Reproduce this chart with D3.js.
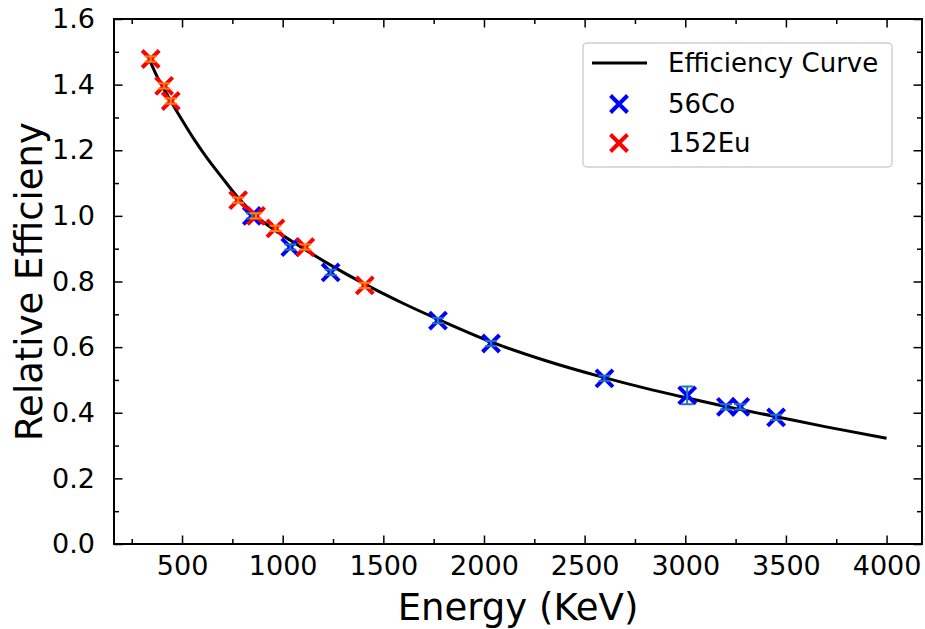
<!DOCTYPE html>
<html>
<head>
<meta charset="utf-8">
<script src="https://cdn.jsdelivr.net/npm/d3@7"></script>
<style>
  html, body { margin: 0; padding: 0; background: #fff; }
  svg { display: block; font-family: "DejaVu Sans", sans-serif; }
</style>
</head>
<body>
<svg id="chart" width="925" height="629"></svg>
<script>
// ---- data ----
const curveEnergy = [344, 380, 411, 444, 500, 560, 620, 700, 779, 867, 964, 1040, 1112, 1238, 1408, 1600, 1771, 2035, 2300, 2598, 2800, 3010, 3200, 3451, 3700, 4000];
const curveEff    = [1.468, 1.420, 1.386, 1.350, 1.292, 1.233, 1.180, 1.116, 1.055, 1.000, 0.955, 0.925, 0.897, 0.850, 0.792, 0.733, 0.685, 0.616, 0.560, 0.507, 0.475, 0.445, 0.419, 0.388, 0.357, 0.322];

const coEnergy = [846.8, 1037.8, 1238.3, 1771.4, 2034.8, 2598.5, 3009.6, 3202.0, 3273.1, 3451.2];
const coEff    = [1.000, 0.905, 0.828, 0.681, 0.611, 0.505, 0.453, 0.418, 0.418, 0.386];
const coErr    = [0.008, 0.008, 0.008, 0.008, 0.008, 0.008, 0.027, 0.008, 0.008, 0.008];

const euEnergy = [344.3, 411.1, 444.0, 778.9, 867.4, 964.1, 1112.1, 1408.0];
const euEff    = [1.478, 1.396, 1.350, 1.048, 1.000, 0.962, 0.905, 0.788];
const euErr    = [0.008, 0.008, 0.008, 0.008, 0.008, 0.008, 0.008, 0.008];

const xTicks = [500, 1000, 1500, 2000, 2500, 3000, 3500, 4000];
const yTicks = [0.0, 0.2, 0.4, 0.6, 0.8, 1.0, 1.2, 1.4, 1.6];
const legendLabels = ["Efficiency Curve", "56Co", "152Eu"];

// ---- layout ----
const svg = d3.select("#chart");
const L = 114, R = 922, T = 19, B = 544;
const x = d3.scaleLinear().domain([162, 4176]).range([L, R]);
const y = d3.scaleLinear().domain([0, 1.6]).range([B, T]);

const tickFont = 27;
const labelFont = 37;

// minor ticks
const xMinor = d3.range(250, 4176, 250).filter(v => xTicks.indexOf(v) < 0 && v > 162);
const yMinor = d3.range(0.1, 1.6, 0.2);

const g = svg.append("g");

// curve
const curveData = curveEnergy.map((e, i) => [e, curveEff[i]]);
g.append("path")
  .datum(curveData)
  .attr("fill", "none")
  .attr("stroke", "#000")
  .attr("stroke-width", 3)
  .attr("d", d3.line().x(d => x(d[0])).y(d => y(d[1])).curve(d3.curveMonotoneX));

// markers
function xMarker(sel, cx, cy, color, s) {
  const h = s / 2;
  sel.append("path")
    .attr("d", `M${cx - h},${cy - h}L${cx + h},${cy + h}M${cx - h},${cy + h}L${cx + h},${cy - h}`)
    .attr("stroke", color).attr("stroke-width", 4).attr("stroke-linecap", "butt").attr("fill", "none");
}
function errBar(sel, cx, v, err, color) {
  const y1 = y(v - err), y2 = y(v + err);
  sel.append("line").attr("x1", cx).attr("x2", cx).attr("y1", y1).attr("y2", y2)
    .attr("stroke", color).attr("stroke-width", 2);
  [y1, y2].forEach(yy => sel.append("line").attr("x1", cx - 6).attr("x2", cx + 6).attr("y1", yy).attr("y2", yy)
    .attr("stroke", color).attr("stroke-width", 2));
}
const pts = g.append("g");
coEnergy.forEach((e, i) => xMarker(pts, x(e), y(coEff[i]), "#0000ff", 17));
euEnergy.forEach((e, i) => xMarker(pts, x(e), y(euEff[i]), "#ff0000", 17));
coEnergy.forEach((e, i) => errBar(pts, x(e), coEff[i], coErr[i], "#1f77b4"));
euEnergy.forEach((e, i) => errBar(pts, x(e), euEff[i], euErr[i], "#ff7f0e"));

// axes (ticks inward, on all four sides)
function styleAxis(a) {
  a.select(".domain").remove();
  a.selectAll(".tick line").attr("stroke", "#000").attr("stroke-width", 1.5);
}
const xb = svg.append("g").attr("transform", `translate(0,${B})`)
  .call(d3.axisBottom(x).tickValues(xTicks).tickSize(-8.5).tickPadding(12).tickFormat(d3.format("d")));
styleAxis(xb);
xb.selectAll("text").attr("font-size", tickFont).attr("fill", "#000").attr("font-family", "DejaVu Sans");
const xbm = svg.append("g").attr("transform", `translate(0,${B})`)
  .call(d3.axisBottom(x).tickValues(xMinor).tickSize(-5).tickFormat(""));
styleAxis(xbm);
const xt = svg.append("g").attr("transform", `translate(0,${T})`)
  .call(d3.axisTop(x).tickValues(xTicks).tickSize(-8.5).tickFormat(""));
styleAxis(xt);
const xtm = svg.append("g").attr("transform", `translate(0,${T})`)
  .call(d3.axisTop(x).tickValues(xMinor).tickSize(-5).tickFormat(""));
styleAxis(xtm);

const yl = svg.append("g").attr("transform", `translate(${L},0)`)
  .call(d3.axisLeft(y).tickValues(yTicks).tickSize(-8.5).tickPadding(19).tickFormat(d3.format(".1f")));
styleAxis(yl);
yl.selectAll("text").attr("font-size", tickFont).attr("fill", "#000").attr("font-family", "DejaVu Sans");
const ylm = svg.append("g").attr("transform", `translate(${L},0)`)
  .call(d3.axisLeft(y).tickValues(yMinor).tickSize(-5).tickFormat(""));
styleAxis(ylm);
const yr = svg.append("g").attr("transform", `translate(${R},0)`)
  .call(d3.axisRight(y).tickValues(yTicks).tickSize(-8.5).tickFormat(""));
styleAxis(yr);
const yrm = svg.append("g").attr("transform", `translate(${R},0)`)
  .call(d3.axisRight(y).tickValues(yMinor).tickSize(-5).tickFormat(""));
styleAxis(yrm);

// frame
svg.append("rect").attr("x", L).attr("y", T).attr("width", R - L).attr("height", B - T)
  .attr("fill", "none").attr("stroke", "#000").attr("stroke-width", 2);

// axis labels
svg.append("text").attr("x", (L + R) / 2).attr("y", 620).attr("text-anchor", "middle")
  .attr("font-size", labelFont).attr("fill", "#000").text("Energy (KeV)");
svg.append("text").attr("transform", `translate(42,${(T + B) / 2}) rotate(-90)`).attr("text-anchor", "middle")
  .attr("font-size", labelFont).attr("fill", "#000").text("Relative Efficieny");

// legend
const lg = svg.append("g");
lg.append("rect").attr("x", 583).attr("y", 43).attr("width", 309).attr("height", 124).attr("rx", 4)
  .attr("fill", "#fff").attr("fill-opacity", 0.8).attr("stroke", "#d0d0d0").attr("stroke-width", 1.5);
const rowsY = [63, 104, 143];
lg.append("line").attr("x1", 592).attr("x2", 647).attr("y1", rowsY[0]).attr("y2", rowsY[0])
  .attr("stroke", "#000").attr("stroke-width", 3);
xMarker(lg, 619, rowsY[1], "#0000ff", 17);
xMarker(lg, 619, rowsY[2], "#ff0000", 17);
legendLabels.forEach((t, i) => {
  lg.append("text").attr("x", 668).attr("y", rowsY[i]).attr("dy", "0.35em")
    .attr("font-size", 26).attr("fill", "#000").text(t);
});
</script>
</body>
</html>
